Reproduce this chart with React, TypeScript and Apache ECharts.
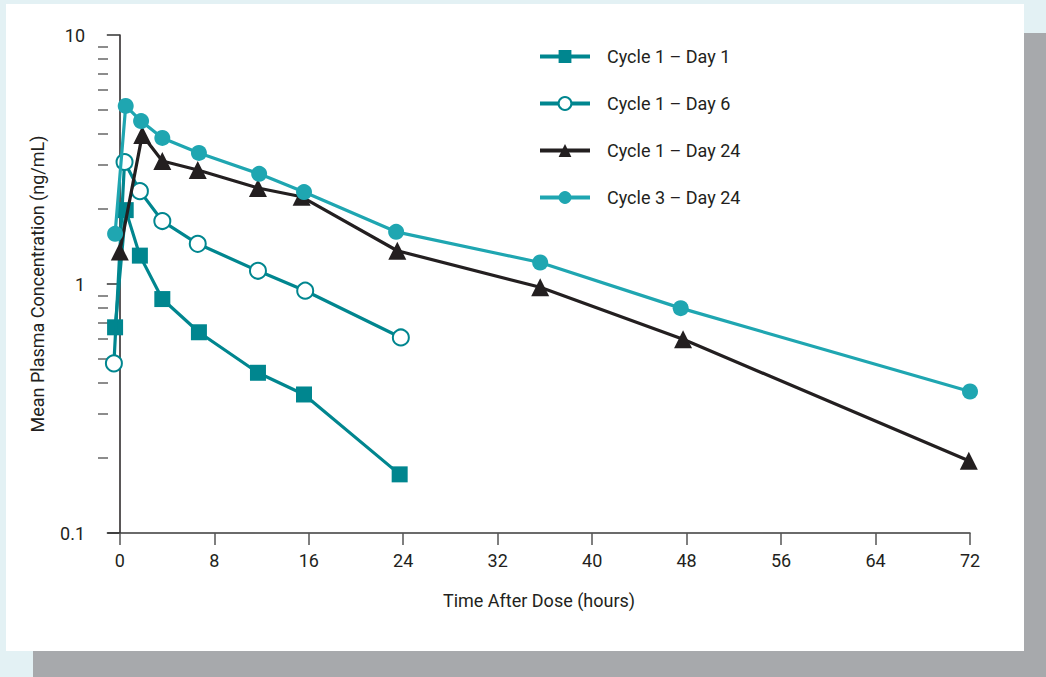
import React, { useEffect, useRef } from "react";
import * as echarts from "echarts";

const seriesNames = ["Cycle 1 – Day 1", "Cycle 1 – Day 6", "Cycle 1 – Day 24", "Cycle 3 – Day 24"];

const c1d1X = [-0.4, 0.5, 1.7, 3.6, 6.7, 11.7, 15.6, 23.7];
const c1d1Y = [0.67, 1.98, 1.3, 0.87, 0.64, 0.44, 0.36, 0.172];

const c1d6X = [-0.5, 0.4, 1.7, 3.6, 6.6, 11.7, 15.7, 23.8];
const c1d6Y = [0.48, 3.09, 2.36, 1.79, 1.45, 1.13, 0.94, 0.61];

const c1d24X = [0, 1.9, 3.6, 6.6, 11.7, 15.4, 23.5, 35.6, 47.7, 71.9];
const c1d24Y = [1.35, 3.97, 3.12, 2.87, 2.43, 2.24, 1.36, 0.97, 0.6, 0.195];

const c3d24X = [-0.4, 0.5, 1.8, 3.6, 6.7, 11.8, 15.6, 23.4, 35.6, 47.5, 72];
const c3d24Y = [1.59, 5.19, 4.51, 3.86, 3.36, 2.77, 2.34, 1.62, 1.22, 0.8, 0.37];

const xTicks = [0, 8, 16, 24, 32, 40, 48, 56, 64, 72];
const yMajorTicks = [0.1, 1, 10];
const yMajorLabels = ["0.1", "1", "10"];
const yMinorTicks = [0.2, 0.3, 0.4, 0.5, 0.6, 0.7, 0.8, 0.9, 2, 3, 4, 5, 6, 7, 8, 9];

const FONT = "'Liberation Sans Narrow', 'Roboto', sans-serif";
const TEXT = "#231f20";
const DARK_TEAL = "#00868f";
const LIGHT_TEAL = "#1fa6b1";

const zip = (xs: number[], ys: number[]) => xs.map((x, i) => [x, ys[i]]);

export default function App() {
  const ref = useRef<HTMLDivElement>(null);
  useEffect(() => {
    if (!ref.current) return;
    const chart = echarts.init(ref.current, null, { renderer: "svg" });
    const lineSeries = (name: string, data: number[][], color: string, symbol: string, size: number, z: number, borderWidth = 0) => ({
      name,
      type: "line",
      data,
      symbol,
      symbolSize: size,
      xAxisIndex: 0,
      yAxisIndex: 0,
      lineStyle: { color, width: 3.2 },
      itemStyle: { color, borderWidth },
      z,
    });
    chart.setOption({
      animation: false,
      backgroundColor: "#e3f1f4",
      graphic: [
        { type: "rect", z: -10, shape: { x: 33, y: 33, width: 1013, height: 644 }, style: { fill: "#a7a9ac" } },
        { type: "rect", z: -9, shape: { x: 6, y: 4, width: 1018, height: 647 }, style: { fill: "#ffffff" } },
      ],
      grid: { left: 108, right: 76, top: 35, bottom: 144, containLabel: false },
      legend: {
        orient: "vertical",
        left: 533,
        top: 41,
        itemWidth: 50,
        itemHeight: 16,
        itemGap: 26,
        lineStyle: { width: 4 },
        textStyle: { fontFamily: FONT, fontSize: 18, color: TEXT, lineHeight: 21, padding: [0, 0, 0, 12] },
        data: seriesNames,
      },
      xAxis: {
        type: "value",
        min: -1,
        max: 72,
        name: "Time After Dose (hours)",
        nameLocation: "middle",
        nameGap: 58,
        nameTextStyle: { fontFamily: FONT, fontSize: 18, color: TEXT, verticalAlign: "top" },
        axisLine: { show: true, onZero: false, lineStyle: { color: "#3a3a3a", width: 1.5 } },
        axisTick: { show: true, inside: false, length: 12, customValues: xTicks, lineStyle: { color: "#555", width: 1.5 } },
        axisLabel: { customValues: xTicks, margin: 18, fontFamily: FONT, fontSize: 18, color: TEXT },
        splitLine: { show: false },
      },
      yAxis: [
        {
          type: "log",
          logBase: 10,
          min: 0.1,
          max: 10,
          name: "Mean Plasma Concentration (ng/mL)",
          nameLocation: "middle",
          nameGap: 62,
          nameTextStyle: { fontFamily: FONT, fontSize: 18, color: TEXT },
          axisLine: { show: true, lineStyle: { color: TEXT, width: 1.5 } },
          axisTick: { show: true, length: 13, customValues: yMajorTicks, lineStyle: { color: "#333", width: 1.5 } },
          axisLabel: {
            customValues: yMajorTicks,
            margin: 23,
            fontFamily: FONT,
            fontSize: 18,
            color: TEXT,
            formatter: (v: number) => {
              const i = yMajorTicks.findIndex((t) => Math.abs(t - v) < 1e-9);
              return i >= 0 ? yMajorLabels[i] : "";
            },
          },
          splitLine: { show: false },
        },
        {
          type: "log",
          logBase: 10,
          min: 0.1,
          max: 10,
          position: "left",
          axisLine: { show: false },
          axisTick: { show: true, length: 10, customValues: yMinorTicks, lineStyle: { color: "#666", width: 1.5 } },
          axisLabel: { show: false },
          splitLine: { show: false },
        },
      ],
      series: [
        lineSeries(seriesNames[0], zip(c1d1X, c1d1Y), DARK_TEAL, "rect", 16, 3),
        lineSeries(seriesNames[1], zip(c1d6X, c1d6Y), DARK_TEAL, "emptyCircle", 16, 4, 2.8),
        lineSeries(seriesNames[2], zip(c1d24X, c1d24Y), TEXT, "triangle", 18, 5),
        lineSeries(seriesNames[3], zip(c3d24X, c3d24Y), LIGHT_TEAL, "circle", 16, 6),
      ],
    });
    return () => chart.dispose();
  }, []);
  return <div ref={ref} style={{ position: "absolute", left: 0, top: 0, width: 1046, height: 677 }} />;
}
